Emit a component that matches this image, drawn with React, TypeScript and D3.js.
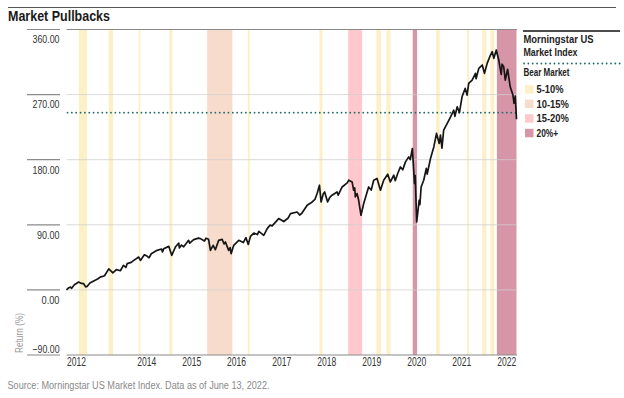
import React from "react";
import * as d3 from "d3";

// Cumulative return (%) of the Morningstar US Market Index
const returnSeries: [string, number][] = [
  ["2012-06-13", 0], ["2012-06-28", 2.5], ["2012-07-15", 3.9], ["2012-07-25", 2.2], ["2012-08-16", 7],
  ["2012-09-20", 10.8], ["2012-10-12", 8.9], ["2012-10-30", 8.6], ["2012-11-15", 4.2], ["2012-11-27", 4.8],
  ["2012-12-20", 9.5], ["2013-01-20", 12.2], ["2013-02-20", 15], ["2013-03-14", 17.7], ["2013-04-18", 19.5],
  ["2013-05-22", 29], ["2013-06-24", 23.5], ["2013-07-23", 28], ["2013-08-24", 26.5], ["2013-09-18", 34],
  ["2013-10-08", 31], ["2013-10-18", 36.3], ["2013-11-20", 38], ["2013-12-11", 40.8], ["2014-01-20", 45.4],
  ["2014-02-03", 40.8], ["2014-03-07", 48.5], ["2014-03-28", 46.8], ["2014-04-14", 44.5], ["2014-05-02", 50],
  ["2014-06-18", 54.7], ["2014-07-24", 56.5], ["2014-08-01", 52.5], ["2014-08-11", 57], ["2014-09-21", 60.2],
  ["2014-10-15", 47.8], ["2014-11-14", 59.3], ["2014-12-11", 64.8], ["2014-12-16", 58], ["2015-01-02", 62],
  ["2015-01-20", 59.6], ["2015-03-01", 68.5], ["2015-03-10", 64.5], ["2015-04-11", 69.5], ["2015-05-20", 71.5],
  ["2015-06-05", 70.9], ["2015-07-08", 67.5], ["2015-07-20", 71.5], ["2015-08-10", 70], ["2015-08-25", 54.7],
  ["2015-09-16", 61.6], ["2015-10-04", 55.6], ["2015-10-31", 68.5], ["2015-11-28", 69.9], ["2015-12-14", 63.5],
  ["2015-12-25", 66.2], ["2016-01-20", 54.7], ["2016-02-01", 58.5], ["2016-02-09", 50.1], ["2016-03-01", 61.6],
  ["2016-04-11", 68.5], ["2016-05-18", 65.5], ["2016-06-08", 72.3], ["2016-06-27", 62.8], ["2016-07-15", 74],
  ["2016-08-11", 78.6], ["2016-09-09", 76.5], ["2016-09-21", 81], ["2016-10-31", 75.5], ["2016-11-28", 84.7],
  ["2016-12-20", 89.5], ["2017-01-07", 88.5], ["2017-03-01", 98.6], ["2017-04-11", 94.5], ["2017-05-15", 99],
  ["2017-06-05", 105.5], ["2017-07-29", 107.7], ["2017-08-18", 103.5], ["2017-09-05", 106], ["2017-10-18", 117],
  ["2017-11-28", 121.6], ["2017-12-20", 125], ["2018-01-07", 133.2], ["2018-01-26", 144.7], ["2018-02-08", 121.6],
  ["2018-02-26", 133], ["2018-03-09", 135.4], ["2018-04-02", 121.6], ["2018-04-20", 128], ["2018-05-08", 130.9],
  ["2018-06-18", 135.4], ["2018-06-27", 131], ["2018-07-29", 142.3], ["2018-09-08", 147.9], ["2018-09-21", 151.6],
  ["2018-10-18", 149.3], ["2018-10-30", 137.8], ["2018-11-08", 141], ["2018-11-13", 128.5], ["2018-11-27", 133.2],
  ["2018-12-10", 123.9], ["2018-12-29", 103.2], ["2019-01-20", 119.4], ["2019-03-01", 142.3], ["2019-03-22", 138],
  ["2019-04-11", 151.6], ["2019-05-08", 154], ["2019-06-05", 137.8], ["2019-07-01", 151.6], ["2019-08-03", 159.9],
  ["2019-08-24", 149.3], ["2019-09-21", 158.5], ["2019-10-03", 151], ["2019-10-23", 160.9], ["2019-11-14", 170],
  ["2019-12-03", 166], ["2019-12-25", 177], ["2020-01-20", 183.9], ["2020-02-02", 180], ["2020-02-19", 195.5],
  ["2020-03-07", 147], ["2020-03-13", 158], ["2020-03-25", 93.9], ["2020-04-14", 123.9], ["2020-04-20", 118],
  ["2020-04-30", 142.3], ["2020-05-21", 151.6], ["2020-06-11", 168], ["2020-06-18", 160], ["2020-07-15", 181.7],
  ["2020-08-11", 197.7], ["2020-09-02", 216.3], ["2020-09-24", 202.4], ["2020-10-04", 214], ["2020-10-16", 196],
  ["2020-10-30", 221], ["2020-11-28", 230.1], ["2020-12-25", 239.3], ["2021-01-20", 248.5], ["2021-01-29", 240],
  ["2021-02-17", 253.1], ["2021-03-07", 245], ["2021-03-28", 267], ["2021-04-23", 278.6], ["2021-05-08", 269.3],
  ["2021-05-21", 285.5], ["2021-06-18", 290.1], ["2021-07-15", 299.4], ["2021-07-20", 292], ["2021-08-11", 306.3],
  ["2021-09-08", 310.9], ["2021-09-26", 299.4], ["2021-10-18", 313.2], ["2021-11-08", 322.4], ["2021-11-28", 329.3],
  ["2021-12-11", 320.1], ["2021-12-31", 331.6], ["2022-01-20", 317.8], ["2022-02-09", 298], ["2022-02-16", 312],
  ["2022-03-01", 308.6], ["2022-03-14", 290.1], ["2022-04-02", 305], ["2022-04-23", 280.8], ["2022-05-15", 269.3],
  ["2022-05-24", 258], ["2022-06-03", 268], ["2022-06-13", 236],
];

// Bear-market threshold (20% below the peak), in return %
const bearThreshold = [245];

// Pullback periods
const bandStarts = [
  "2012-09-21", "2013-05-21", "2014-01-20", "2014-09-26", "2015-07-29", "2016-06-23",
  "2018-01-26", "2018-09-16", "2019-05-03", "2019-07-23", "2020-02-22", "2020-08-30",
  "2021-05-08", "2021-09-08", "2021-11-13", "2022-01-05",
];
const bandEnds = [
  "2012-11-27", "2013-06-26", "2014-02-03", "2014-10-20", "2016-02-19", "2016-07-09",
  "2018-02-19", "2019-01-07", "2019-06-10", "2019-08-25", "2020-03-28", "2020-09-28",
  "2021-05-25", "2021-10-12", "2021-12-15", "2022-06-13",
];
const bandCategories = [0, 0, 0, 0, 1, 0, 0, 2, 0, 0, 3, 0, 0, 0, 0, 3];

const legendLabels = ["5-10%", "10-15%", "15-20%", "20%+"];
const bandColors = ["#fcf0c6", "#f8dccb", "#fec8cd", "#d696a8"];

const yTicks = [360, 270, 180, 90, 0, -90];
const xTickLabels = ["2012", "2014", "2015", "2016", "2017", "2018", "2019", "2020", "2021", "2022"];
const xTickDates = [
  "2012-06-13", "2014-01-01", "2015-01-01", "2016-01-01", "2017-01-01",
  "2018-01-01", "2019-01-01", "2020-01-01", "2021-01-01", "2022-01-01",
];

const FONT = "'Liberation Sans', Arial, sans-serif";

type TProps = {
  x: number;
  y: number;
  w: number;
  size: number;
  bold?: boolean;
  fill?: string;
  anchor?: "start" | "end" | "middle";
  children: React.ReactNode;
  transform?: string;
};

function CText({ x, y, w, size, bold, fill = "#222", anchor = "start", children, transform }: TProps) {
  return (
    <text
      x={x}
      y={y}
      transform={transform}
      fontSize={size}
      fontWeight={bold ? "bold" : "normal"}
      fill={fill}
      textAnchor={anchor}
      textLength={w}
      lengthAdjust="spacingAndGlyphs"
    >
      {children}
    </text>
  );
}

export default function App() {
  const parse = d3.timeParse("%Y-%m-%d");
  const W = 624;
  const H = 398;
  const left = 66.5;
  const right = 516.5;
  const top = 29.5;
  const bottom = 355;

  const x = d3
    .scaleTime()
    .domain([parse("2012-06-13") as Date, parse("2022-06-13") as Date])
    .range([left, right]);
  const y = d3.scaleLinear().domain([-90, 360]).range([bottom, top]);

  const line = d3
    .line<[string, number]>()
    .x((d) => x(parse(d[0]) as Date))
    .y((d) => y(d[1]));

  const fmt = d3.format(".2f");
  const tickFmt = (v: number) => (v < 0 ? "\u2212" + fmt(-v) : fmt(v));

  return (
    <svg
      width={W}
      height={H}
      style={{ position: "absolute", left: 0, top: 0, background: "#fff" }}
      fontFamily={FONT}
    >
      {/* title */}
      <line x1={8} x2={616} y1={7.5} y2={7.5} stroke="#555" strokeWidth={1} />
      <CText x={8} y={20.6} w={102} size={14.8} bold fill="#1a1a1a">
        Market Pullbacks
      </CText>

      {/* bands */}
      {bandStarts.map((s, i) => {
        const x0 = x(parse(s) as Date);
        const x1 = x(parse(bandEnds[i]) as Date);
        return (
          <rect
            key={"b" + i}
            x={x0}
            y={top}
            width={Math.max(1.6, x1 - x0)}
            height={bottom - top}
            fill={bandColors[bandCategories[i]]}
          />
        );
      })}

      {/* gridlines & y labels */}
      {yTicks.map((t, i) => {
        const yy = y(t);
        const isTop = i === 0;
        const isBottom = i === yTicks.length - 1;
        const label = tickFmt(t);
        return (
          <g key={"g" + t}>
            <line
              x1={left}
              x2={right + 0.5}
              y1={yy}
              y2={yy}
              stroke={isTop || isBottom ? "#8a8a8a" : "#cfcfcf"}
              strokeOpacity={isTop || isBottom ? 1 : 0.75}
              strokeWidth={isTop || isBottom ? 1.2 : 1}
            />
            <line x1={27} x2={60} y1={yy} y2={yy} stroke="#8a8a8a" strokeWidth={1.2} />
            <CText
              x={59.5}
              y={isBottom ? yy - 2.5 : yy + 13.8}
              w={label.length * 4.5}
              anchor="end"
              size={11.5}
              fill="#333"
            >
              {label}
            </CText>
          </g>
        );
      })}

      <CText x={0} y={0} w={40} size={10.5} fill="#999" anchor="middle" transform="translate(22.5,333) rotate(-90)">
        Return (%)
      </CText>

      {/* x labels */}
      {xTickLabels.map((lab, i) => (
        <CText
          key={"x" + lab}
          x={x(parse(xTickDates[i]) as Date) + (i === 0 ? 0.5 : 0.8)}
          y={366}
          w={19}
          size={12}
          fill="#333"
        >
          {lab}
        </CText>
      ))}

      {/* bear market threshold */}
      {bearThreshold.map((v) => (
        <line
          key={"bt" + v}
          x1={left + 1}
          x2={right}
          y1={y(v)}
          y2={y(v)}
          stroke="#1d6b64"
          strokeWidth={1.8}
          strokeDasharray="0 4.35"
          strokeLinecap="round"
        />
      ))}

      {/* series */}
      <path d={line(returnSeries) || ""} fill="none" stroke="#161616" strokeWidth={1.7} strokeLinejoin="round" />

      {/* legend */}
      <g>
        <line x1={523} x2={620} y1={31} y2={31} stroke="#111" strokeWidth={1.5} />
        <CText x={523.5} y={43.3} w={70} size={11.5} bold>
          Morningstar US
        </CText>
        <CText x={523.5} y={56} w={54} size={11.5} bold>
          Market Index
        </CText>
        <line
          x1={524}
          x2={620}
          y1={63.5}
          y2={63.5}
          stroke="#1d6b64"
          strokeWidth={1.8}
          strokeDasharray="0 4.35"
          strokeLinecap="round"
        />
        <CText x={523.5} y={76.3} w={46} size={11.5} bold>
          Bear Market
        </CText>
        {legendLabels.map((lab, i) => (
          <g key={"l" + lab}>
            <rect x={525} y={85 + i * 14.6} width={8.5} height={8.5} fill={bandColors[i]} />
            <CText x={536.5} y={93 + i * 14.6} w={lab.length * 5.4} size={11.5} bold>
              {lab}
            </CText>
          </g>
        ))}
      </g>

      {/* source */}
      <CText x={7.5} y={389} w={262} size={10} fill="#8a8a8a">
        Source: Morningstar US Market Index. Data as of June 13, 2022.
      </CText>
    </svg>
  );
}
